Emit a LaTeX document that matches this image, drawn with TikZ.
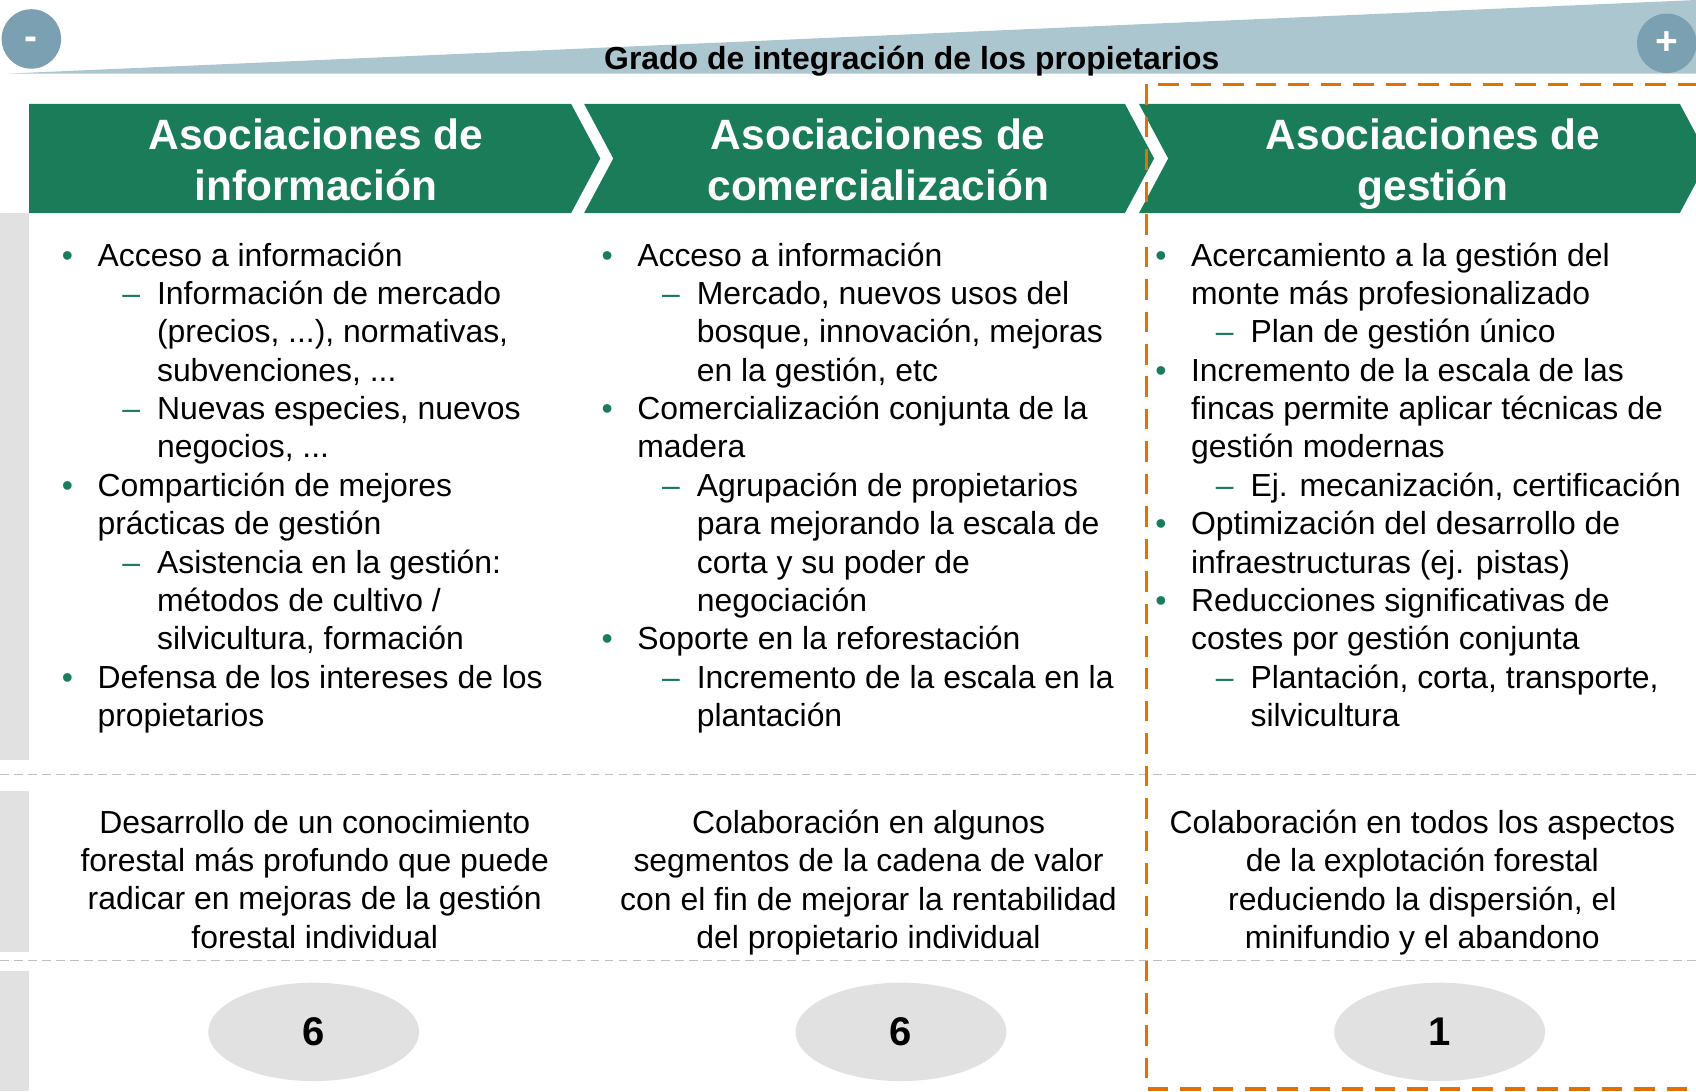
\documentclass[tikz,border=0pt]{standalone}
\usepackage{fontspec}
\setmainfont{Liberation Sans}
\usepackage{xcolor}
\usetikzlibrary{positioning, shapes.geometric}
\definecolor{assocgreen}{RGB}{27,124,90}
\definecolor{wedgeblue}{RGB}{172,198,208}
\definecolor{dotblue}{RGB}{122,160,178}
\definecolor{focusorange}{RGB}{228,112,0}
\definecolor{softgray}{RGB}{225,225,225}
\definecolor{rulegray}{RGB}{190,190,190}

\newcommand{\bodyfont}{\fontsize{29.5pt}{35.5pt}\selectfont}
\newcommand{\bitem}[1]{\makebox[33pt][l]{\textcolor{assocgreen}{\textbullet}}#1}
\newcommand{\bcont}[1]{\hspace*{33pt}#1}
\newcommand{\ditem}[1]{\hspace*{56pt}\makebox[32pt][l]{\textcolor{assocgreen}{–}}#1}
\newcommand{\dcont}[1]{\hspace*{88pt}#1}

\begin{document}
\begin{tikzpicture}[
    x=1pt, y=-1pt,
    every node/.style={inner sep=0pt},
    headtext/.style={align=center, text=white, font=\bfseries\fontsize{39.2pt}{47pt}\selectfont},
    body/.style={align=left, anchor=north west, font=\bodyfont},
    summary/.style={align=center, font=\bodyfont},
    tally/.style={ellipse, fill=softgray, minimum width=195pt, minimum height=91pt, font=\bfseries\fontsize{37pt}{40pt}\selectfont},
    endpoint/.style={circle, fill=dotblue, minimum size=55pt, text=white, font=\bfseries\fontsize{36pt}{40pt}\selectfont},
    rowrule/.style={rulegray, line width=1.6pt, dash pattern=on 8pt off 5pt},
    focus/.style={focusorange, line width=3.4pt, dash pattern=on 19pt off 11pt},
]
\useasboundingbox (0,0) rectangle (1568,1009);

% --- Scale: degree of integration
\fill[wedgeblue] (8,68) -- (1568,0) -- (1568,68) -- cycle;
\node[endpoint, text height=19pt, text depth=0pt] (less) at (29,36) {-};
\node[endpoint] (more) at (1541,40) {+};
\node[anchor=base, font=\bfseries\fontsize{29.5pt}{35pt}\selectfont] (scale) at (843,64)
    {Grado de integración de los propietarios};

% --- Row labels (cut off on the left)
\fill[softgray] (0,197) rectangle (27,703);
\fill[softgray] (0,731) rectangle (27,880);
\fill[softgray] (0,898) rectangle (27,1009);

% --- Headers
\fill[assocgreen] (27,96) -- (528,96) -- (555,146.5) -- (528,197) -- (27,197) -- cycle;
\fill[assocgreen] (540,96) -- (1040,96) -- (1067,146.5) -- (1040,197) -- (540,197) -- (567,146.5) -- cycle;
\fill[assocgreen] (1053,96) -- (1553,96) -- (1580,146.5) -- (1553,197) -- (1053,197) -- (1080,146.5) -- cycle;
\node[headtext] (hinfo) at (292,148) {Asociaciones de\\información};
\node[headtext] (hcom)  at (812,148) {Asociaciones de\\comercialización};
\node[headtext] (hges)  at (1325,152) {Asociaciones de\\gestión};

% --- Contents
\node[body] (binfo) at (57,224) {%
  \bitem{Acceso a información}\\
  \ditem{Información de mercado}\\
  \dcont{(precios, ...), normativas,}\\
  \dcont{subvenciones, ...}\\
  \ditem{Nuevas especies, nuevos}\\
  \dcont{negocios, ...}\\
  \bitem{Compartición de mejores}\\
  \bcont{prácticas de gestión}\\
  \ditem{Asistencia en la gestión:}\\
  \dcont{métodos de cultivo /}\\
  \dcont{silvicultura, formación}\\
  \bitem{Defensa de los intereses de los}\\
  \bcont{propietarios}};
\node[body] (bcom) at (556,224) {%
  \bitem{Acceso a información}\\
  \ditem{Mercado, nuevos usos del}\\
  \dcont{bosque, innovación, mejoras}\\
  \dcont{en la gestión, etc}\\
  \bitem{Comercialización conjunta de la}\\
  \bcont{madera}\\
  \ditem{Agrupación de propietarios}\\
  \dcont{para mejorando la escala de}\\
  \dcont{corta y su poder de}\\
  \dcont{negociación}\\
  \bitem{Soporte en la reforestación}\\
  \ditem{Incremento de la escala en la}\\
  \dcont{plantación}};
\node[body] (bges) at (1068,224) {%
  \bitem{Acercamiento a la gestión del}\\
  \bcont{monte más profesionalizado}\\
  \ditem{Plan de gestión único}\\
  \bitem{Incremento de la escala de las}\\
  \bcont{fincas permite aplicar técnicas de}\\
  \bcont{gestión modernas}\\
  \ditem{Ej. mecanización, certificación}\\
  \bitem{Optimización del desarrollo de}\\
  \bcont{infraestructuras (ej. pistas)}\\
  \bitem{Reducciones significativas de}\\
  \bcont{costes por gestión conjunta}\\
  \ditem{Plantación, corta, transporte,}\\
  \dcont{silvicultura}};

% --- Row separators
\draw[rowrule] (0,716) -- (1568,716);
\draw[rowrule] (0,888) -- (1568,888);

% --- Summary row
\node[summary] (sinfo) at (291,813) {Desarrollo de un conocimiento\\forestal más profundo que puede\\radicar en mejoras de la gestión\\forestal individual};
\node[summary] (scom)  at (803,816) {Colaboración en algunos\\segmentos de la cadena de valor\\con el fin de mejorar la rentabilidad\\del propietario individual};
\node[summary] (sges)  at (1315,816) {Colaboración en todos los aspectos\\de la explotación forestal\\reduciendo la dispersión, el\\minifundio y el abandono};

% --- Counts
\node[tally] (ninfo) at (290,954) {6};
\node[tally] (ncom)  at (833,954) {6};
\node[tally] (nges)  at (1331,954) {1};

% --- Highlight of the last column
\draw[focus] (1600,78) -- (1060,78) -- (1060,1007) -- (1600,1007);

\end{tikzpicture}
\end{document}
